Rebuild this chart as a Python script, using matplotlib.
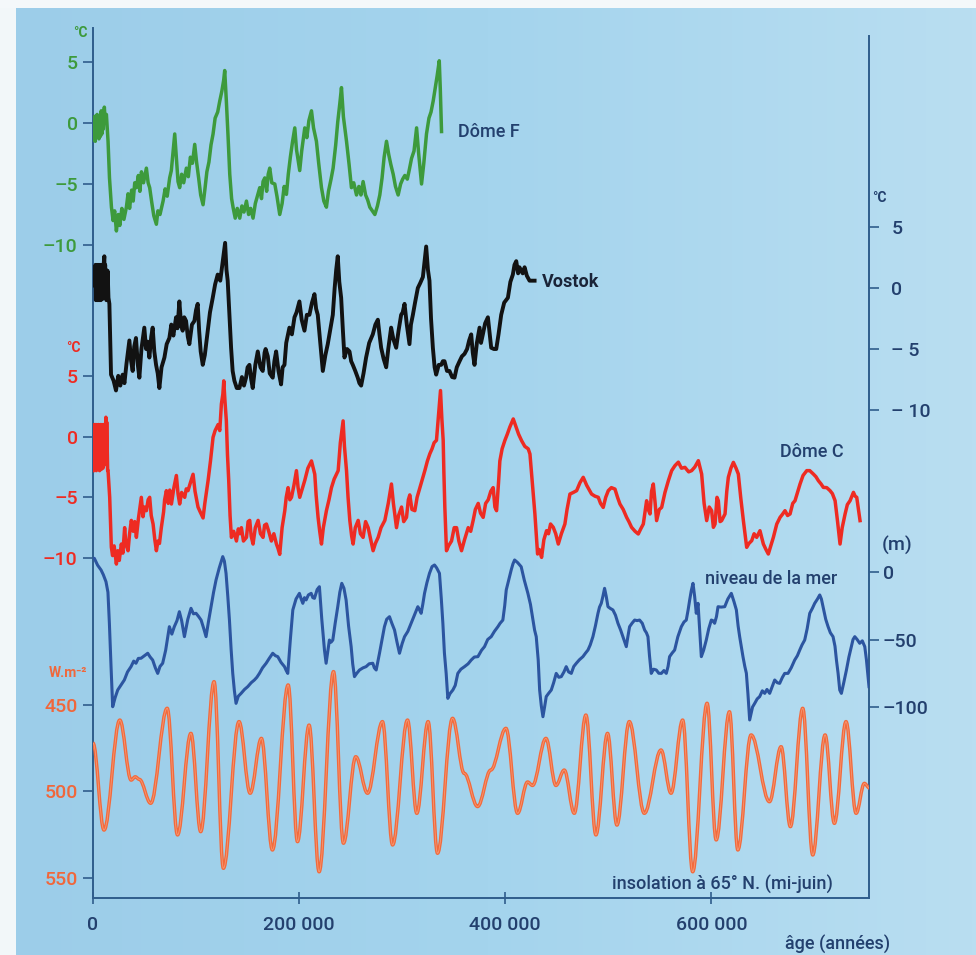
import numpy as np
import matplotlib
matplotlib.use('Agg')
import matplotlib.pyplot as plt
from matplotlib.path import Path
from matplotlib.patches import PathPatch, Rectangle
from matplotlib.colors import LinearSegmentedColormap

plt.rcParams['font.family'] = ['Roboto', 'DejaVu Sans']
plt.rcParams['font.weight'] = 'medium'

# ------------------------------------------------------------------ data
# (age in kyr, value)
DOME_F = [(0,-0.9),(0.5,0.5),(1.0,-1.4),(1.6,0.3),(2.2,-1.5),(2.8,0.6),(3.4,-1.2),(4.0,0.7),(4.6,-1.0),(5.2,0.5),
 (5.8,-1.3),(6.5,-0.2),(7.2,-1.1),(8,1.0),(8.6,-0.9),(9.3,0.8),(10,-0.5),(11,1.3),(11.8,0.2),(13,0.7),(14.6,-1.5),
 (16,-4.5),(17.9,-6.9),(19.5,-8.0),(21,-7.2),(22.7,-8.85),(24.5,-7.5),(26,-8.4),(28,-7.0),(30,-7.9),(32.4,-6.9),
 (34,-5.8),(35.5,-7.0),(37.5,-5.5),(39,-6.4),(40.5,-4.9),(42.1,-5.3),(44,-4.3),(45.5,-5.6),(47,-4.0),(49,-4.9),
 (51.8,-3.7),(53.5,-4.9),(55,-5.3),(57,-6.5),(59,-7.6),(61.5,-8.3),(63,-7.2),(65,-7.5),(68,-6.4),(70,-5.4),
 (72,-6.0),(74.4,-4.5),(76,-3.9),(77.5,-2.5),(79.3,-0.9),(81,-3.0),(82.5,-4.8),(84.1,-5.3),(86,-4.2),(88,-4.9),
 (90.6,-3.7),(92.5,-4.4),(94.5,-2.8),(96.5,-3.3),(98.7,-1.75),(100.5,-3.2),(102.5,-4.5),(104.5,-5.9),(106.8,-6.7),
 (108.5,-5.5),(110.5,-4.0),(112.5,-3.2),(114.5,-1.8),(116.5,-0.9),(118.5,0.4),(121,0.9),(123,1.8),(125,2.6),
 (126.8,3.5),(127.8,4.3),(129.4,1.8),(131,-1.0),(132.7,-4.2),(134.5,-6.2),(135.9,-6.9),(138,-7.8),(140,-7.0),
 (142.4,-7.8),(144.5,-6.8),(146.5,-7.3),(148.9,-6.4),(151,-7.5),(153,-7.0),(155.3,-7.8),(157.5,-6.6),(159.5,-6.0),
 (161.8,-5.3),(163.5,-6.2),(165,-4.8),(166.7,-4.5),(168.5,-5.6),(170,-4.2),(171.5,-3.7),(173.5,-4.9),(176.4,-5.0),
 (178.5,-6.0),(181.2,-7.5),(183.5,-6.6),(185.5,-5.2),(187.7,-5.85),(189.5,-4.2),(191.5,-2.8),(193.5,-1.6),
 (195.8,-0.4),(197.5,-2.2),(200.6,-3.9),(202.5,-2.3),(205.5,-0.4),(207.5,-1.2),(209.5,0.2),(212.0,1.0),(214,-0.4),
 (216.8,-1.5),(219,-3.3),(221.7,-5.3),(224,-6.4),(226.5,-6.9),(228.5,-5.6),(231,-4.6),(233,-3.7),(235.5,-1.8),
 (237.5,0.1),(239.5,1.6),(241.1,2.9),(243,0.5),(246,-1.5),(248.5,-3.4),(250.8,-5.3),(253,-4.9),(255.7,-5.9),
 (258,-5.2),(260,-5.9),(262.1,-4.8),(264.5,-5.9),(266.5,-6.3),(268.6,-6.9),(271,-7.2),(273.5,-7.5),(276,-6.8),
 (278.3,-5.9),(280.5,-4.5),(282.5,-2.8),(284.8,-1.5),(287,-2.6),(289,-3.4),(291.3,-4.2),(293.5,-5.2),(296.1,-5.9),
 (298.5,-5.0),(300.5,-4.6),(302.6,-4.3),(305,-4.6),(307,-3.8),(309.1,-2.9),(311.5,-2.3),(314.0,-0.4),(316,-2.5),
 (318.8,-5.0),(321,-3.3),(323.6,-0.9),(326,0.4),(328,0.9),(330.1,1.8),(332,2.8),(334,3.9),(336.0,5.1),(337,2.8),
 (338.2,-0.7)]

VOSTOK = [(2.0,0.2),(2.4,1.9),(2.8,-1.0),(3.2,1.8),(3.6,-0.9),(4.0,1.9),(4.4,-1.0),(4.8,1.7),(5.2,-0.8),(5.6,1.9),
 (6.0,-1.0),(6.4,1.8),(6.8,-0.9),(7.2,1.9),(7.6,-1.0),(8.0,1.7),(8.4,-0.8),(8.8,1.9),(9.2,-0.9),(9.6,1.8),
 (10.0,-0.5),(10.4,2.0),(11.0,2.6),(11.4,0.0),(11.8,1.9),(12.2,-0.8),(12.6,1.5),(13.0,-1.0),(13.4,1.4),(13.8,-0.9),
 (14.2,1.4),(14.6,0.2),(15.0,-0.8),(15.9,-1.3),(17.5,-7.1),(20,-7.6),(22.3,-8.4),(24.5,-7.2),(26.5,-8.0),
 (28.8,-7.1),(30.5,-7.8),(32.5,-6.2),
 (35.3,-4.3),(37,-6.0),(38.5,-6.8),(40,-4.8),(41.7,-4.1),(43.5,-6.3),(45.0,-7.35),(47,-5.0),(49.8,-3.25),
 (51.5,-5.0),(53,-4.4),(54.7,-5.7),(56.5,-4.0),(57.9,-3.25),(59.5,-5.2),(61.2,-6.3),(62.8,-7.0),(64.4,-8.2),
 (66.5,-6.5),(69.3,-5.7),(71.5,-4.6),(74.1,-4.1),(76,-3.0),(78,-3.9),(80.6,-2.4),(82,-3.3),(83.8,-1.1),(85.5,-3.0),
 (87.0,-3.5),(88.5,-2.4),(90.3,-2.7),(92,-4.0),(93.5,-4.6),(96,-3.0),(98.4,-2.7),(100,-1.8),(101.6,-1.3),
 (103,-3.5),(104.5,-5.2),(106.5,-6.3),(108.5,-5.5),(111.3,-3.5),(113.5,-2.0),(116.2,-0.8),(118.5,0.3),(121.0,1.1),
 (123.5,0.6),(125.9,2.2),(127,3.0),(128.2,3.7),(129.5,1.5),(130.7,0.6),(132.5,-2.5),(134.0,-4.9),(135.5,-6.8),
 (137.2,-7.6),(139.5,-8.2),(142.1,-8.2),(144.5,-7.3),(146.5,-8.0),(148.5,-7.35),(150,-6.5),(151.8,-6.3),
 (153.5,-7.5),(155.0,-8.2),(157.5,-6.3),(159.9,-5.2),(162.5,-6.5),(164.7,-6.8),(166.5,-5.3),(167.5,-5.0),
 (169.6,-5.6),(171.5,-7.0),(174.4,-7.35),(176,-6.0),(177.7,-5.2),(180,-6.8),(182.5,-7.9),(184,-6.5),(185.8,-6.3),
 (187.5,-4.5),(190.6,-3.25),(193,-3.8),(195.5,-2.4),(197.5,-2.0),(200.3,-1.1),(202.5,-2.6),(205.2,-3.5),
 (207.5,-2.2),(210.0,-2.2),(212.5,-1.2),(214.9,-0.5),(216.5,-1.7),(218.1,-2.2),(220.5,-4.5),(223.0,-6.8),
 (225.5,-5.5),(227.8,-4.6),(230,-3.5),(232.7,-2.2),(234.5,0.0),(236,1.5),(237.5,2.6),(239,0.5),(240.8,-0.8),
 (242.5,-3.5),(244.0,-5.7),(246.5,-5.0),(248.9,-5.2),(250.5,-6.0),(252.1,-6.3),(254.5,-6.8),(256.9,-7.35),
 (258.5,-7.8),(260.2,-8.0),(262.5,-7.0),(265.0,-5.7),(268,-4.5),(271.5,-3.8),(274,-3.0),(276.4,-2.6),(278,-3.8),
 (279.6,-4.9),(282,-5.8),(284.5,-6.5),(286.5,-5.0),(289.3,-3.25),(291.5,-4.2),(294.2,-4.9),(296.5,-3.5),
 (299.0,-2.2),(300.5,-2.0),(302.3,-1.3),(304.5,-3.0),(307.1,-4.6),(308.5,-3.0),(310.4,-2.2),(312.5,-1.2),
 (315.2,0.0),(317.5,0.4),(320.1,0.9),(321.5,2.0),(323.3,3.4),(325,1.5),(326.5,0.6),(328,-2.5),(329.8,-4.9),
 (331.5,-6.5),(333.0,-7.1),(335.5,-6.3),(337.9,-6.3),(339.5,-6.0),(341.1,-6.0),(343.5,-6.8),(345.9,-6.8),
 (348.5,-7.3),(350.8,-7.35),(353,-6.5),(355.7,-6.0),(358,-5.6),(360.5,-5.4),(363,-5.0),(365,-4.3),(367.0,-3.8),
 (368.5,-5.3),(370.2,-6.3),(372.5,-4.5),(375.1,-3.25),(376.5,-4.5),(378.3,-3.8),(380.5,-2.9),(383.2,-2.4),
 (385,-3.8),(386.4,-4.9),(389,-5.0),(391.3,-5.0),(393.5,-3.8),(396.1,-2.2),(399,-1.2),(402.6,-0.8),(405,0.5),
 (407.4,1.1),(409,1.9),(410.7,2.2),(412.5,1.2),(413.8,1.7),(415.5,1.4),(417,1.2),(418.8,1.7),(421,1.0),
 (423.6,0.6),(428.5,0.6)]

DOME_C = [(0,-2.8),(0.4,0.9),(0.8,-2.6),(1.2,1.0),(1.6,-2.7),(2.0,0.8),(2.4,-2.5),(2.8,1.0),(3.2,-2.8),(3.6,0.9),
 (4.0,-2.6),(4.4,0.8),(4.8,-2.7),(5.2,1.0),(5.6,-2.5),(6.0,0.9),(6.4,-2.8),(6.8,0.8),(7.2,-2.6),(7.6,1.0),(8.0,-2.7),
 (8.4,0.9),(8.8,-2.5),(9.2,0.8),(9.6,-2.6),(10.0,1.0),(10.4,-2.4),(10.8,0.9),(11.2,-2.2),(11.6,1.0),(12.0,-2.0),
 (12.5,1.6),(12.9,-1.5),(13.3,1.2),(13.8,-1.0),(14.2,-2.8),(14.6,-2.8),
 (16.2,-5.0),(17.8,-9.1),(19,-9.8),(20.5,-9.0),
 (22.7,-10.5),(24,-9.4),(25.5,-10.2),(27.5,-8.85),(29,-9.6),(30.7,-7.5),(32,-8.9),(34.0,-9.4),(35.5,-8.0),
 (37.2,-6.9),(39,-7.8),(40.5,-7.0),(42.1,-8.3),(44,-6.8),(46.9,-5.0),(48.5,-6.6),(50,-5.8),(51.8,-6.1),(53.5,-5.2),
 (55.0,-5.0),(56.5,-6.5),(58.3,-7.2),(60,-8.5),(61.5,-9.4),(63,-8.6),(64.5,-8.8),(66.3,-7.5),(68.5,-6.2),
 (69.5,-5.2),(71.2,-4.45),(73,-5.5),(74.5,-4.4),(76.1,-5.55),(78.5,-4.2),(80.9,-3.2),(82.5,-4.7),(84.1,-5.55),
 (86,-4.6),(89.0,-5.0),(90.5,-4.3),(92.2,-4.45),(94.5,-3.8),(97.1,-3.1),(99,-4.5),(101.9,-5.8),(104,-6.2),
 (106.8,-6.7),(108.5,-5.5),(111.7,-3.6),(114,-2.0),(116.5,-0.05),(118.5,0.5),(121.4,1.0),(123,0.5),(124.6,2.7),
 (126,3.5),(126.9,4.6),(128,3.0),(129.4,1.3),(130.5,-1.5),(131.7,-3.6),(133,-6.5),(134.3,-8.3),(136.5,-7.8),
 (139.2,-8.6),(141,-7.6),(142.5,-8.0),(144.0,-7.5),(146,-8.6),(148.9,-8.3),(150.5,-7.0),(152.1,-6.9),(153.5,-8.2),
 (155.3,-8.85),(157.5,-7.5),(160.2,-6.9),(162.5,-8.0),(165.0,-8.3),(166.5,-7.3),(168.3,-7.2),(170.5,-7.8),
 (173.1,-8.6),(175.5,-8.0),(178.0,-8.85),(179.5,-9.2),(181.2,-9.7),(183.5,-7.5),(186.1,-6.1),(187.5,-5.0),
 (189.3,-4.2),(191,-5.2),(192.6,-5.0),(195,-4.0),(197.4,-2.8),(199,-4.2),(200.6,-5.0),(203,-4.3),(205.5,-3.6),
 (208.5,-2.6),(212.0,-2.0),(213.5,-2.5),(215.2,-3.1),(216.5,-4.8),(218.4,-6.65),(220,-7.8),(221.7,-8.85),
 (223.5,-7.5),(226.5,-6.1),(229,-5.2),(231.4,-4.2),(234,-3.5),(237.9,-2.8),(240,-0.5),(241.5,0.5),(242.7,1.3),
 (244,-0.8),(246.0,-2.8),(247.5,-5.0),(249.2,-6.9),(251,-8.2),(252.4,-8.85),(254.5,-7.5),(257.3,-6.9),(259.5,-8.0),
 (262.1,-8.3),(264.5,-7.0),(267.0,-7.5),(269.5,-8.5),(271.8,-9.4),(274,-8.8),(276.7,-8.3),(279.5,-7.5),
 (283.2,-6.9),(286.5,-5.5),(289.6,-3.9),(291.5,-5.5),(294.5,-7.5),(296.5,-6.5),(299.4,-5.8),(301.5,-7.0),
 (304.2,-6.65),(306,-5.2),(307.4,-4.8),(309.5,-6.0),(312.3,-6.1),(314.5,-5.0),(317.2,-4.2),(319.5,-3.5),
 (322.0,-2.8),(324.5,-2.0),(326.9,-1.4),(329,-1.0),(331,-0.5),(333.3,-0.3),(335,1.5),(337.2,3.8),(338.5,1.5),
 (339.8,-0.3),(340.5,-3.0),(341.4,-5.8),(343.0,-9.4),(345,-9.0),(347.9,-8.6),(350.5,-7.5),(352.8,-7.5),(355,-8.6),
 (357.6,-9.4),(360.5,-8.5),(364.1,-7.5),(366.5,-7.8),(368.9,-6.9),(371,-6.0),(373.8,-5.5),(376,-6.3),(378.6,-6.65),
 (381,-5.5),(383.5,-5.2),(386,-4.5),(388.3,-4.2),(390,-5.8),(391.6,-6.1),(393.5,-3.8),(394.8,-2.0),(397,-1.0),
 (399.7,-0.3),(402,0.2),(404.5,0.8),(407.8,1.46),(410.5,0.8),(413,0.2),(415.9,-0.33),(419,-0.8),(422.3,-1.0),
 (424.0,-1.43),(425.6,-3.08),(428.8,-6.37),(431.4,-9.67),(433,-9.3),(435.3,-9.95),(437.5,-8.5),(440.1,-7.75),
 (442,-8.0),(444,-7.2),(446.6,-7.47),(449,-8.0),(451.5,-8.85),(454.5,-8.0),(457.9,-7.2),(460,-6.0),(462.8,-4.73),
 (466,-4.6),(469.3,-4.45),(472.5,-3.8),(475.7,-3.35),(479,-4.0),(483.8,-4.73),(487,-4.9),(490.3,-5.0),
 (492.5,-5.5),(495.1,-5.83),(497.5,-5.0),(500.0,-4.45),(503,-4.2),(506.5,-4.32),(509,-5.0),(511.3,-5.55),
 (514.5,-6.0),(517.8,-6.65),(520,-7.0),(522.6,-7.47),(526,-7.8),(529.1,-8.02),(531.5,-7.6),(534.0,-7.2),
 (537.2,-5.28),(538.8,-6.0),(540.5,-6.37),(542,-4.5),(543.7,-3.9),(545.5,-5.5),(546.9,-6.92),(549.5,-6.0),
 (551.8,-5.83),(555,-4.6),(558.3,-3.63),(561.5,-2.8),(564.7,-2.39),(568,-2.1),(571,-2.6),(574.4,-2.53),(578,-2.9),
 (580.9,-2.8),(584,-2.5),(587.4,-1.98),(590.6,-3.08),(593,-5.5),(595.5,-6.92),(598,-5.8),(600.3,-6.1),
 (602,-7.47),(603.6,-7.2),(605.5,-5.0),(606.8,-5.28),(608.5,-7.0),(610.0,-6.92),(613.3,-6.37),(615,-4.5),
 (616.5,-3.35),(619,-2.6),(621.4,-2.12),(624,-2.6),(626.2,-3.08),(628.5,-5.0),(631.1,-6.92),(634.3,-9.12),
 (636.5,-8.8),(639.2,-8.57),(641.5,-8.0),(644.0,-8.3),(647.2,-7.75),(650.5,-8.85),(653,-9.3),(655.3,-9.67),
 (658,-8.9),(660.2,-8.3),(663.5,-7.2),(666.7,-6.65),(669,-6.4),(671.5,-6.1),(674,-6.5),(676.4,-6.37),(679,-5.5),
 (681.2,-5.28),(684,-4.5),(686.1,-3.9),(689,-3.2),(692.6,-2.8),(695.5,-2.8),(699.0,-3.08),(701.5,-3.3),
 (703.9,-3.63),(706.5,-3.9),(708.7,-4.18),(712,-4.2),(715.2,-4.45),(717.5,-4.7),(720.1,-5.28),(722.5,-7.0),
 (724.9,-8.85),(727,-7.5),(729.8,-6.37),(732,-5.6),(734.6,-5.28),(737.9,-4.59),(739.5,-4.9),(741.1,-5.0),
 (744.3,-6.92)]

SEA_LEVEL = [(0,10.1),(1.3,10.1),(4.5,5.0),(7.8,1.5),(10,-2.0),(12.6,-7.2),(14.5,-15),(15.9,-38.0),(17.5,-70),
 (19.1,-99.8),(21.5,-93),(24.0,-87.4),(27,-84),(30.4,-80.0),(33.5,-74),(36.9,-70.1),(39.5,-66),(41.7,-67.6),
 (44,-64),(46.6,-63.9),(50,-62),(53.1,-60.2),(55.5,-63),(57.9,-65.2),(60.5,-71),(62.8,-75.1),(65,-70),(67.6,-67.6),
 (70.5,-58),(74.1,-40.5),(76.5,-46),(78.9,-40.5),(81.5,-36),(83.8,-29.4),(86,-36),(88.7,-47.9),(92,-35),
 (95.1,-26.9),(97.5,-31),(100.0,-30.6),(102.5,-33),(104.9,-35.6),(107.5,-42),(109.7,-47.9),(112,-37),(114.6,-25.7),
 (117,-15),(119.4,-5.9),(122.5,3),(125.9,11.4),(127.5,8),(129.1,-1.0),(130.8,-18),(132.4,-35.6),(134,-57),
 (135.6,-75.1),(137.2,-88),(138.8,-97.3),(141,-92),(143.7,-89.9),(147,-87),(150.2,-84.9),(153.5,-82),(156.6,-80.0),
 (159,-78),(161.5,-75.1),(164.5,-71),(168.0,-67.6),(171,-64),(174.4,-60.2),(177,-62),(179.3,-62.7),(182.5,-67),
 (185.8,-70.1),(187.5,-73),(189.0,-75.1),(191.5,-50),(193.9,-28.1),(197,-20),(200.3,-15.8),(202,-20),(203.6,-23.2),
 (205.2,-19),(206.8,-20.7),(209,-17),(211.7,-15.8),(213.3,-19),(214.9,-19.5),(217.5,-13),(219.7,-10.9),(222,-35),
 (224.6,-57.8),(226.2,-67.6),(228,-58),(229.4,-50.4),(231,-52),(232.7,-50.4),(235,-38),(237.5,-25.7),(239.5,-15),
 (241.4,-8.4),(243.5,-12),(245.6,-20.7),(248,-40),(250.5,-55.3),(252,-68),(253.7,-77.5),(256,-75),(258.6,-72.6),
 (262,-71),(265.0,-70.1),(268,-68),(271.5,-67.6),(273,-71),(274.8,-72.6),(276.5,-66),(278.0,-60.2),(280.5,-50),
 (282.8,-40.5),(285,-35),(287.7,-33.1),(290,-38),(292.6,-43.0),(295,-52),(297.4,-60.2),(300,-53),(302.3,-47.9),
 (305.5,-44),(308.7,-38.0),(312,-32),(315.2,-25.7),(316.8,-28),(318.4,-30.6),(320,-24),(321.7,-15.8),(324,-8),
 (326.5,-1.0),(329,4),(331.4,5.2),(333.5,3),(336.2,-1.0),(338,-20),(339.5,-38.0),(341,-60),(342.7,-75.1),
 (344.3,-93.6),(346.5,-90),(349.2,-87.4),(351.5,-84),(354.0,-75.1),(357,-72),(360.5,-70.1),(364,-68),(367.0,-65.2),
 (370,-63),(373.5,-62.7),(377,-58),(379.9,-55.3),(383,-50),(386.4,-47.9),(389.5,-44),(392.9,-40.5),(395,-38),
 (397.7,-35.6),(399.5,-25),(401.0,-13.3),(403,-7),(405.8,1.5),(407.5,6),(409.1,8.9),(412,7),(415.5,3.9),
 (418.5,-6),(422.0,-15.8),(424.5,-24),(426.9,-35.6),(428.5,-43),(430.1,-47.9),(432,-65),(433.4,-87.4),(435,-99),
 (436.6,-107.2),(438.2,-100),(439.8,-92.3),(442,-90),(444.7,-87.4),(447,-82),(449.5,-75.1),(452,-78),(454.4,-77.5),
 (457,-74),(459.2,-70.1),(461.5,-74),(464.1,-75.1),(466.5,-70),(469.0,-67.6),(472,-65),(475.4,-62.7),(478,-60),
 (480.3,-57.8),(482.5,-54),(485.1,-47.9),(487.5,-40),(490.0,-30.6),(491.5,-26),(493.2,-23.2),(494.8,-18),
 (496.4,-12.1),(498,-18),(499.7,-25.7),(502,-27),(504.5,-28.1),(507,-32),(509.4,-38.0),(512,-43),(514.2,-47.9),
 (516,-52),(517.5,-55.3),(519,-48),(520.7,-40.5),(523,-38),(525.6,-35.6),(528,-36),(530.4,-35.6),(533,-38),
 (535.3,-43.0),(537,-45),(538.5,-47.9),(540,-62),(541.7,-75.1),(544,-72),(546.6,-72.6),(549,-75),(551.5,-75.1),
 (554,-73),(556.3,-75.1),(558,-70),(559.5,-62.7),(562,-60),(564.4,-57.8),(567.5,-48),(570.9,-40.5),(573.5,-37),
 (575.7,-35.6),(577.5,-28),(579.0,-20.7),(580.5,-14),(582.2,-8.4),(583.8,-18),(585.4,-30.6),(587.1,-23.2),
 (588.5,-40),(590.3,-62.7),(592.5,-58),(595.1,-50.4),(597.5,-42),(600.0,-35.6),(601.5,-36),(603.2,-38.0),
 (605,-33),(606.5,-25.7),(609.5,-26),(613.0,-25.7),(616,-20),(619.4,-15.8),(622,-22),(624.3,-28.1),(626,-40),
 (627.5,-47.9),(629,-55),(630.7,-62.7),(632.5,-70),(634.0,-75),(635.5,-90),(637.2,-109.6),(640,-100),
 (642.1,-97.3),(644.5,-94),(646.9,-92.3),(649.5,-88),(651.8,-89.9),(654,-87),(656.6,-89.9),(659,-85),
 (661.5,-80.0),(664,-82),(666.3,-82.5),(669,-78),(671.2,-75.1),(674.4,-75.1),(677.5,-71),(680.9,-65.2),
 (683.5,-62),(685.8,-57.8),(688,-54),(690.6,-50.4),(693,-42),(695.5,-30.6),(698,-27),(700.3,-23.2),(703,-20),
 (705.2,-17.0),(706.8,-20),(708.4,-25.7),(711,-35),(713.3,-40.5),(715.5,-45),(718.1,-47.9),(720,-55),
 (721.4,-65.2),(723,-75),(724.6,-87.4),(726.2,-89.9),(728.5,-82),(731.1,-72.6),(733.5,-63),(735.9,-55.3),
 (737.5,-50),(739.2,-47.9),(741.5,-50),(744.0,-52.8),(746.5,-51),(748.9,-55.3),(750.5,-65),(752.1,-77.5),
 (753,-84.9)]

# insolation 65N mid-June: successive turning points (age kyr, W/m2)
INSOLATION = [(0,472),(10.7,522.3),(26,458.7),(37,493.4),(41,491.5),(45,493),(56,506.8),(72,451.9),(82,525.1),
 (95,466.4),(104.5,523.2),(117.5,436.5),(126.5,544.4),(141.7,459.6),(152.5,501.0),(163.4,469.3),(174.1,533.8),
 (189.4,438.4),(198.4,529.0),(209.7,461.6),(219.4,546.4),(233.4,430.7),(243.0,529.9),(255.0,479.9),(266.4,501.0),
 (280.9,459.6),(290.7,530.9),(305.2,458.7),(314.2,512.6),(325.2,459.6),(334.3,535.7),(348.9,457.7),(360.2,489.5),
 (373.2,508.7),(386,487.6),(400.7,463.5),(412,512.6),(421.7,494.5),(426.5,496.5),(439.5,469.3),(449.2,496.5),
 (457.3,487.6),(467,512.6),(478.3,455.8),(488,525.1),(499.3,466.4),(508.4,519.4),(520.4,459.6),(535,512.6),
 (551.2,476.0),(560.9,501.0),(572.2,458.7),(581.9,546.4),(595.9,449.0),(604.7,528.0),(617.6,453.9),(625.7,533.8),
 (638.6,467.3),(656.4,505.9),(667.7,474.1),(676.7,520.3),(688.7,451.9),(698.4,536.7),(710.4,467.3),(719.4,518.4),
 (730.7,459.6),(740.5,512.6),(748.5,495.3),(753.4,498)]

X_TICKS = [0, 200000, 400000, 600000]
X_TICKLABELS = ['0', '200 000', '400 000', '600 000']
DOMEF_TICKS = [5, 0, -5, -10]
DOMEF_LABELS = ['5', '0', '–5', '–10']
VOSTOK_TICKS = [5, 0, -5, -10]
VOSTOK_LABELS = ['5', '0', '– 5', '– 10']
DOMEC_TICKS = [5, 0, -5, -10]
DOMEC_LABELS = ['5', '0', '–5', '–10']
SEA_TICKS = [0, -50, -100]
SEA_LABELS = ['0', '–50', '–100']
INSOL_TICKS = [450, 500, 550]
INSOL_LABELS = ['450', '500', '550']

# ------------------------------------------------------------------ layout
W, H = 976, 955
XMAX = 753000
AX_L, AX_R, AX_B, AX_T = 93, 869, 898, 28   # pixels

GREEN = '#3d9a3c'
BLACK = '#121212'
RED = '#ee2b22'
SEA = '#2c55a0'
ORANGE = '#f0673b'
AXIS = '#2f5d8c'
NAVY = '#23406e'
FS = 14
FS_LAB = 13

fig = plt.figure(figsize=(W / 100, H / 100), dpi=100)

def fx(px):
    return px / W

def fy(py):
    return 1 - py / H

# background
bg = fig.add_axes([0, 0, 1, 1])
cmap = LinearSegmentedColormap.from_list('bg', ['#9ccde9', '#a4d4ed', '#b9def1'])
grad = np.linspace(0, 1, 256)[None, :]
bg.imshow(grad, extent=[0, 1, 0, 1], aspect='auto', cmap=cmap, origin='lower')
bg.add_patch(Rectangle((0, 0), 16 / W, 1, color='#f2f7f9', lw=0))
bg.add_patch(Rectangle((0, 1 - 8 / H), 1, 8 / H, color='#f4f8fa', lw=0))
bg.set_xlim(0, 1)
bg.set_ylim(0, 1)
bg.axis('off')

pos = [fx(AX_L), fy(AX_B), fx(AX_R) - fx(AX_L), fy(AX_T) - fy(AX_B)]

ax = fig.add_axes(pos)
ax.patch.set_alpha(0)
ax.set_xlim(0, XMAX)
ax.set_ylim(0, 1)
ax.spines['top'].set_visible(False)
for s in ('left', 'right', 'bottom'):
    ax.spines[s].set_color(AXIS)
    ax.spines[s].set_linewidth(1.4)
ax.spines['right'].set_bounds(0, (AX_B - 36) / (AX_B - AX_T))
ax.set_yticks([])
ax.set_xticks(X_TICKS)
ax.set_xticklabels(X_TICKLABELS, fontsize=FS, color=NAVY)
ax.tick_params(axis='x', direction='inout', length=8, width=1.2, color=AXIS, pad=9)


def series_axes(v1, p1, v2, p2, side, ticks, labels, color, pad):
    a = fig.add_axes(pos)
    a.patch.set_alpha(0)
    for s in a.spines.values():
        s.set_visible(False)
    a.set_xlim(0, XMAX)
    a.xaxis.set_visible(False)
    s = (p1 - p2) / (v2 - v1)
    lo = v1 - (AX_B - p1) / s
    hi = lo + (AX_B - AX_T) / s
    a.set_ylim(lo, hi)
    a.yaxis.set_ticks_position(side)
    a.set_yticks(ticks)
    a.set_yticklabels(labels, fontsize=FS, color=color)
    a.tick_params(axis='y', length=7, width=1.2, color=AXIS, pad=pad)
    return a


def draw(a, series, color, lw):
    age = np.array([p[0] for p in series]) * 1000
    val = np.array([p[1] for p in series])
    a.plot(age, val, color=color, lw=lw, solid_joinstyle='round')


a_f = series_axes(5, 62, -10, 245, 'left', DOMEF_TICKS, DOMEF_LABELS, GREEN, 4)
draw(a_f, DOME_F, GREEN, 2.5)

a_v = series_axes(5, 227, -10, 410, 'right', VOSTOK_TICKS, VOSTOK_LABELS, NAVY, 9)
draw(a_v, VOSTOK, BLACK, 2.8)

a_c = series_axes(5, 376, -10, 558, 'left', DOMEC_TICKS, DOMEC_LABELS, RED, 4)
draw(a_c, DOME_C, RED, 2.5)

a_s = series_axes(0, 572, -100, 707, 'right', SEA_TICKS, SEA_LABELS, NAVY, 3)
draw(a_s, SEA_LEVEL, SEA, 2.2)

a_i = series_axes(450, 705, 550, 878, 'left', INSOL_TICKS, INSOL_LABELS, ORANGE, 4)
ins_age = np.array([p[0] for p in INSOLATION]) * 1000
ins_val = np.array([p[1] for p in INSOLATION])
verts = [(ins_age[0], ins_val[0])]
codes = [Path.MOVETO]
k = 0.36
for i in range(len(ins_age) - 1):
    x0, y0, x1, y1 = ins_age[i], ins_val[i], ins_age[i + 1], ins_val[i + 1]
    dx = x1 - x0
    verts += [(x0 + k * dx, y0), (x1 - k * dx, y1), (x1, y1)]
    codes += [Path.CURVE4] * 3
ins_path = Path(verts, codes)
a_i.add_patch(PathPatch(ins_path, fill=False, lw=2.5, edgecolor='#f26a3c', joinstyle='round'))
a_i.add_patch(PathPatch(ins_path, fill=False, lw=0.6, edgecolor='#f69874', joinstyle='round'))

# ------------------------------------------------------------------ texts
def ftext(x, y, s, **kw):
    fig.text(fx(x), fy(y), s, **kw)

ftext(80, 33, '°C', fontsize=10, color=GREEN, ha='center', va='center', fontweight='bold')
ftext(879, 198, '°C', fontsize=10, color=NAVY, ha='center', va='center', fontweight='bold')
ftext(73, 348, '°C', fontsize=10, color=RED, ha='center', va='center', fontweight='bold')
ftext(882, 545, '(m)', fontsize=FS, color=NAVY, ha='left', va='center')
ftext(68, 673, 'W.m⁻²', fontsize=10, color=ORANGE, ha='center', va='center', fontweight='bold')

ftext(458, 132, 'Dôme F', fontsize=FS_LAB, color=NAVY, ha='left', va='center')
ftext(542, 282, 'Vostok', fontsize=FS_LAB, color='#1a2438', ha='left', va='center', fontweight='bold')
ftext(780, 452, 'Dôme C', fontsize=FS_LAB, color=NAVY, ha='left', va='center')
ftext(705, 579, 'niveau de la mer', fontsize=FS_LAB, color=NAVY, ha='left', va='center')
ftext(612, 884, 'insolation à 65° N. (mi-juin)', fontsize=FS_LAB, color=NAVY, ha='left', va='center')
ftext(785, 944, 'âge (années)', fontsize=FS_LAB, color=NAVY, ha='left', va='center')

fig.savefig('out.png', dpi=100)
